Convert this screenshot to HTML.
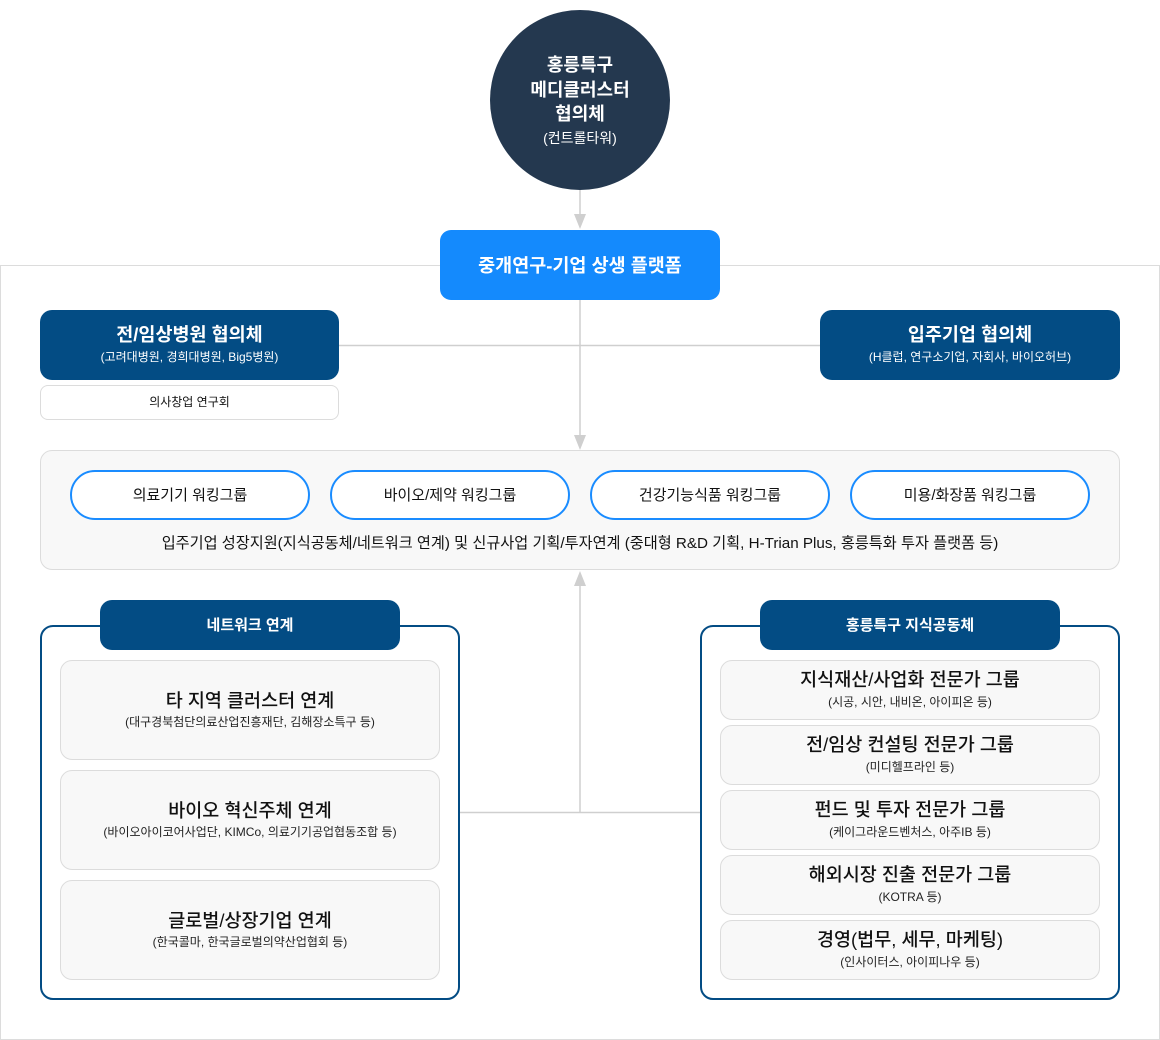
<!DOCTYPE html>
<html><head><meta charset="utf-8">
<style>
*{margin:0;padding:0;box-sizing:border-box}
html,body{width:1160px;height:1040px;background:#fff;overflow:hidden}
body{position:relative;font-family:"Liberation Sans","Noto Sans CJK KR",sans-serif;color:#111}
.a{position:absolute}
.c{text-align:center}
.outer{left:0;top:265px;width:1160px;height:775px;border:1px solid #dcdcdc}
.circle{left:490px;top:10px;width:180px;height:180px;border-radius:50%;background:#24384f;color:#fff}
.plat{left:440px;top:230px;width:280px;height:70px;border-radius:11px;background:#148afd;color:#fff;font-weight:700;font-size:18.5px;line-height:72px}
.navy{background:#034c84;color:#fff;border-radius:12px}
.hd{font-size:18.5px;font-weight:700;line-height:22px}
.sub{font-size:12px;line-height:16px}
.smallbox{left:40px;top:385px;width:299px;height:35px;border:1px solid #dcdcdc;border-radius:8px;background:#fff;font-size:12px;line-height:33px}
.mid{left:40px;top:450px;width:1080px;height:120px;border:1px solid #dcdcdc;border-radius:12px;background:#f8f8f8}
.pill{top:470px;width:240px;height:50px;border:2px solid #1a8cff;border-radius:25px;background:#fff;font-size:15px;line-height:48px}
.grp{top:625px;width:420px;height:375px;border:2px solid #034c84;border-radius:13px;background:#fff}
.tab{top:600px;width:300px;height:50px;border-radius:12px;background:#034c84;color:#fff;font-size:15px;font-weight:700;line-height:51px}
.card{width:380px;border:1px solid #dcdcdc;border-radius:12px;background:#f8f8f8}
.ct{font-size:18.5px;font-weight:500;line-height:24px}
.cs{font-size:12px;line-height:16px;color:#222}
</style></head><body>
<div class="a outer"></div>
<svg class="a" style="left:0;top:0" width="1160" height="1040">
<g stroke="#cfcfcf" stroke-width="1.5" fill="none">
<line x1="580" y1="190" x2="580" y2="216"/>
<line x1="339" y1="345.5" x2="820" y2="345.5"/>
<line x1="580" y1="300" x2="580" y2="437"/>
<line x1="460" y1="812.5" x2="700" y2="812.5"/>
<line x1="580" y1="812" x2="580" y2="584"/>
</g>
<g fill="#cfcfcf">
<polygon points="574,214 586,214 580,229"/>
<polygon points="574,435 586,435 580,450"/>
<polygon points="574,586 586,586 580,571"/>
</g>
</svg>
<div class="a circle">
 <div class="a c" style="left:0;width:180px;top:43px;font-size:18px;font-weight:700;line-height:24.5px">홍릉특구<br>메디클러스터<br>협의체</div>
 <div class="a c" style="left:0;width:180px;top:119px;font-size:14px;line-height:18px">(컨트롤타워)</div>
</div>
<div class="a plat c">중개연구-기업 상생 플랫폼</div>

<div class="a navy" style="left:40px;top:310px;width:299px;height:70px">
 <div class="a c hd" style="left:0;width:299px;top:14px">전/임상병원 협의체</div>
 <div class="a c sub" style="left:0;width:299px;top:39px">(고려대병원, 경희대병원, Big5병원)</div>
</div>
<div class="a smallbox c">의사창업 연구회</div>
<div class="a navy" style="left:820px;top:310px;width:300px;height:70px">
 <div class="a c hd" style="left:0;width:300px;top:14px">입주기업 협의체</div>
 <div class="a c sub" style="left:0;width:300px;top:39px">(H클럽, 연구소기업, 자회사, 바이오허브)</div>
</div>

<div class="a mid"></div>
<div class="a pill c" style="left:70px">의료기기 워킹그룹</div>
<div class="a pill c" style="left:330px">바이오/제약 워킹그룹</div>
<div class="a pill c" style="left:590px">건강기능식품 워킹그룹</div>
<div class="a pill c" style="left:850px">미용/화장품 워킹그룹</div>
<div class="a c" style="left:40px;width:1080px;top:533px;font-size:15.2px;line-height:22px">입주기업 성장지원(지식공동체/네트워크 연계) 및 신규사업 기획/투자연계 (중대형 R&amp;D 기획, H-Trian Plus, 홍릉특화 투자 플랫폼 등)</div>

<div class="a grp" style="left:40px"></div>
<div class="a tab c" style="left:100px">네트워크 연계</div>
<div class="a card" style="left:60px;top:660px;height:100px">
 <div class="a c ct" style="left:0;width:378px;top:28px">타 지역 클러스터 연계</div>
 <div class="a c cs" style="left:0;width:378px;top:53px">(대구경북첨단의료산업진흥재단, 김해장소특구 등)</div>
</div>
<div class="a card" style="left:60px;top:770px;height:100px">
 <div class="a c ct" style="left:0;width:378px;top:28px">바이오 혁신주체 연계</div>
 <div class="a c cs" style="left:0;width:378px;top:53px">(바이오아이코어사업단, KIMCo, 의료기기공업협동조합 등)</div>
</div>
<div class="a card" style="left:60px;top:880px;height:100px">
 <div class="a c ct" style="left:0;width:378px;top:28px">글로벌/상장기업 연계</div>
 <div class="a c cs" style="left:0;width:378px;top:53px">(한국콜마, 한국글로벌의약산업협회 등)</div>
</div>

<div class="a grp" style="left:700px"></div>
<div class="a tab c" style="left:760px">홍릉특구 지식공동체</div>
<div class="a card" style="left:720px;top:660px;height:60px">
 <div class="a c ct" style="left:0;width:378px;top:7px">지식재산/사업화 전문가 그룹</div>
 <div class="a c cs" style="left:0;width:378px;top:33px">(시공, 시안, 내비온, 아이피온 등)</div>
</div>
<div class="a card" style="left:720px;top:725px;height:60px">
 <div class="a c ct" style="left:0;width:378px;top:7px">전/임상 컨설팅 전문가 그룹</div>
 <div class="a c cs" style="left:0;width:378px;top:33px">(미디헬프라인 등)</div>
</div>
<div class="a card" style="left:720px;top:790px;height:60px">
 <div class="a c ct" style="left:0;width:378px;top:7px">펀드 및 투자 전문가 그룹</div>
 <div class="a c cs" style="left:0;width:378px;top:33px">(케이그라운드벤처스, 아주IB 등)</div>
</div>
<div class="a card" style="left:720px;top:855px;height:60px">
 <div class="a c ct" style="left:0;width:378px;top:7px">해외시장 진출 전문가 그룹</div>
 <div class="a c cs" style="left:0;width:378px;top:33px">(KOTRA 등)</div>
</div>
<div class="a card" style="left:720px;top:920px;height:60px">
 <div class="a c ct" style="left:0;width:378px;top:7px">경영(법무, 세무, 마케팅)</div>
 <div class="a c cs" style="left:0;width:378px;top:33px">(인사이터스, 아이피나우 등)</div>
</div>
</body></html>
